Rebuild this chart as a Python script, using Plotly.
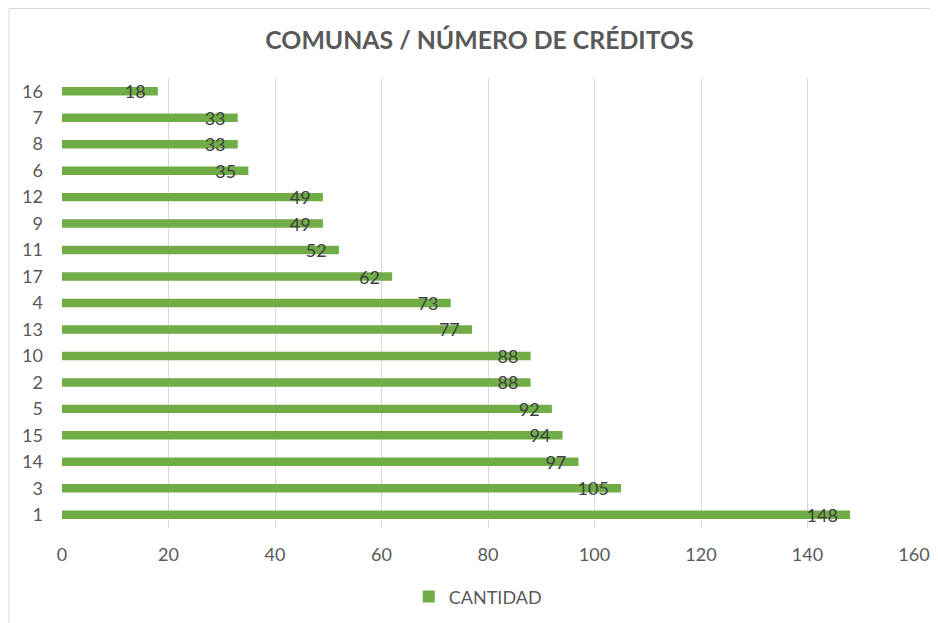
import plotly.graph_objects as go

comunas = ["1", "3", "14", "15", "5", "2", "10", "13", "4", "17", "11", "9", "12", "6", "8", "7", "16"]
cantidad = [148, 105, 97, 94, 92, 88, 88, 77, 73, 62, 52, 49, 49, 35, 33, 33, 18]
x_ticks = [0, 20, 40, 60, 80, 100, 120, 140, 160]

FONT = "Lato, 'Open Sans', sans-serif"

fig = go.Figure()
fig.add_trace(go.Bar(
    y=comunas, x=cantidad, orientation="h", name="CANTIDAD",
    marker=dict(color="#70AD47", line=dict(width=0)),
    texttemplate="%{x}\u00a0\u00a0",
    textposition="inside", insidetextanchor="end", constraintext="none",
    textangle=0,
    insidetextfont=dict(family=FONT, size=18, color="#404040"),
    cliponaxis=False,
))

fig.update_layout(
    width=930, height=615,
    paper_bgcolor="white", plot_bgcolor="white",
    margin=dict(l=54, r=24, t=70, b=95, autoexpand=False),
    bargap=0.68,
    title=dict(text="<b>COMUNAS / NÚMERO DE CRÉDITOS</b>", x=0.49, xanchor="center", xref="paper",
               y=0.948, yanchor="middle", automargin=False,
               font=dict(family=FONT, size=24.8, color="#595959")),
    font=dict(family=FONT, size=18, color="#595959"),
    showlegend=True,
    legend=dict(orientation="h", x=0.488, xanchor="center", y=-0.153, yanchor="middle",
                font=dict(family=FONT, size=18, color="#595959"),
                itemwidth=30),
    xaxis=dict(range=[0, 160], tickvals=x_ticks, showgrid=True, gridcolor="#D9D9D9",
               gridwidth=1, zeroline=False, showline=False, ticks="", automargin=False,
               ticklabelstandoff=14, tickfont=dict(size=18, color="#595959")),
    yaxis=dict(categoryorder="array", categoryarray=comunas, showgrid=False, automargin=False,
               zeroline=False, showline=False, ticks="", ticklabelstandoff=18,
               tickfont=dict(size=18, color="#595959")),
    shapes=[dict(type="rect", xref="paper", yref="paper", x0=-0.0622, x1=1.06,
                 y0=-0.26, y1=1.1544, line=dict(color="#D9D9D9", width=1),
                 fillcolor="rgba(0,0,0,0)", layer="below")],
)

fig.write_html("out.html")
